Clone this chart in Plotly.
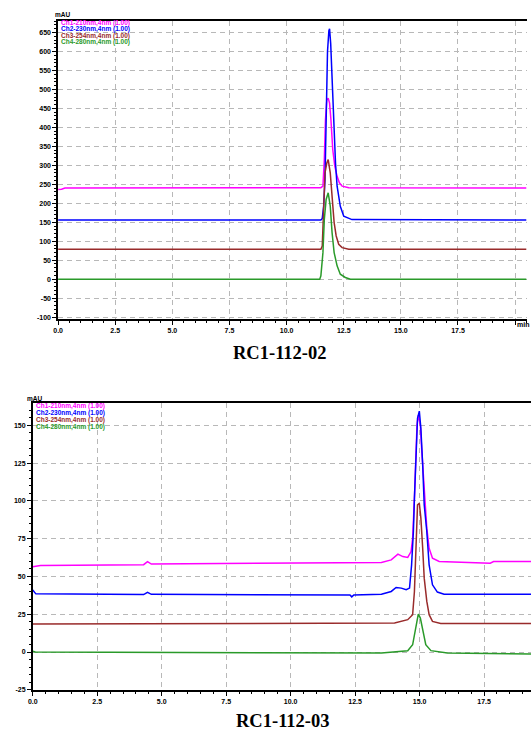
import plotly.graph_objects as go

W, H = 531, 740

# ---------------- data: RC1-112-02 (top) ----------------
TOP_MAG_T = [0.0, 0.15, 0.3, 11.50, 11.59, 11.65, 11.70, 11.76, 11.82, 11.88, 11.94, 12.02, 12.11, 12.21, 12.31, 12.43, 12.72, 20.5]
TOP_MAG_V = [236, 237, 240, 241, 245, 315, 420, 472, 477, 464, 420, 341, 297, 271, 254, 245, 241, 240]

TOP_BLU_T = [0.0, 11.50, 11.56, 11.62, 11.68, 11.73, 11.79, 11.85, 11.88, 11.93, 11.99, 12.05, 12.14, 12.21, 12.35, 12.50, 12.86, 20.5]
TOP_BLU_V = [156, 156, 160, 192, 262, 464, 600, 655, 660, 620, 520, 420, 306, 245, 192, 166, 157, 156]

TOP_BRN_T = [0.0, 11.50, 11.56, 11.62, 11.68, 11.76, 11.82, 11.91, 11.99, 12.08, 12.17, 12.28, 12.43, 12.72, 20.5]
TOP_BRN_V = [79, 79, 87.5, 176.6, 280, 306, 315, 280, 210, 149, 113.8, 91.9, 83.1, 78.7, 79]

TOP_GRN_T = [0.0, 11.45, 11.50, 11.59, 11.65, 11.73, 11.82, 11.91, 11.99, 12.08, 12.21, 12.35, 12.57, 12.79, 20.5]
TOP_GRN_V = [0, 0, 8.7, 69.9, 157.5, 210, 227.5, 192.5, 122.5, 70, 35, 13.1, 4.4, 0, 0]

# ---------------- data: RC1-112-03 (bottom) ----------------
BOT_MAG_T = [0.0, 0.3, 4.3, 4.45, 4.6, 9.0, 13.0, 13.52, 13.90, 14.16, 14.35, 14.54, 14.67, 14.73, 14.80, 14.86, 14.90, 14.95,
             15.03, 15.08, 15.14, 15.21, 15.28, 15.37, 15.50, 15.76, 16.72, 17.74, 17.87, 19.32]
BOT_MAG_V = [56.5, 57.2, 57.8, 59.8, 58.2, 58.5, 58.8, 59.3, 61.0, 64.8, 63.2, 62.6, 66.5, 75.3, 101.8, 128.2, 150.3, 156.8,
             150.3, 134.8, 117.2, 97.4, 82.0, 68.7, 62.1, 59.9, 59.5, 58.8, 59.9, 59.9]

BOT_BLU_T = [0.0, 0.12, 4.3, 4.45, 4.6, 12.3, 12.37, 12.45, 13.52, 13.90, 14.09, 14.29, 14.48, 14.61, 14.69, 14.76, 14.80,
             14.86, 14.92, 14.99, 15.05, 15.12, 15.18, 15.28, 15.37, 15.50, 15.69, 15.95, 19.32]
BOT_BLU_V = [41.0, 38.5, 38.0, 39.5, 38.2, 37.8, 36.5, 37.8, 38.3, 40.1, 42.7, 42.3, 41.2, 42.3, 57.7, 79.8, 101.8,
             128.2, 154.7, 159.5, 148, 123.8, 97.4, 79.8, 57.7, 44.5, 39.7, 38.3, 38.3]

BOT_BRN_T = [0.0, 13.52, 14.03, 14.54, 14.73, 14.80, 14.86, 14.92, 14.99, 15.05, 15.12, 15.18, 15.28, 15.37, 15.50, 15.82, 19.32]
BOT_BRN_V = [18.5, 18.9, 19.2, 21.4, 24.7, 40.1, 68.7, 97.4, 98.5, 88.6, 68.7, 48.9, 33.5, 24.7, 20.3, 18.9, 18.9]

BOT_GRN_T = [0.0, 0.1, 13.52, 14.16, 14.54, 14.73, 14.86, 14.95, 15.03, 15.12, 15.24, 15.44, 16.08, 19.32]
BOT_GRN_V = [0.5, 0.0, -0.7, 0.4, 0.9, 4.8, 18.1, 25.1, 22.5, 13.7, 4.8, 0.9, -0.7, -1.3]

LEGEND = ["Ch1-210nm,4nm (1.00)", "Ch2-230nm,4nm (1.00)", "Ch3-254nm,4nm (1.00)", "Ch4-280nm,4nm (1.00)"]
COLORS = ["#ff00ff", "#0000ff", "#992b2b", "#2a9a2a"]

X_TICKS = [0, 2.5, 5, 7.5, 10, 12.5, 15, 17.5, 20]
X_TEXT = ["0.0", "2.5", "5.0", "7.5", "10.0", "12.5", "15.0", "17.5", ""]
TOP_Y_TICKS = list(range(-100, 651, 50))
BOT_Y_TICKS = list(range(-25, 151, 25))

TITLES = ["RC1-112-02", "RC1-112-03"]


def px(x):
    return x / W


def py(y):
    return 1 - y / H


fig = go.Figure()
top = [(TOP_MAG_T, TOP_MAG_V), (TOP_BLU_T, TOP_BLU_V), (TOP_BRN_T, TOP_BRN_V), (TOP_GRN_T, TOP_GRN_V)]
bot = [(BOT_MAG_T, BOT_MAG_V), (BOT_BLU_T, BOT_BLU_V), (BOT_BRN_T, BOT_BRN_V), (BOT_GRN_T, BOT_GRN_V)]
for (t, v), c in zip(top, COLORS):
    fig.add_trace(go.Scatter(x=t, y=v, mode="lines", line=dict(color=c, width=1.5),
                             xaxis="x", yaxis="y", showlegend=False))
for (t, v), c in zip(bot, COLORS):
    fig.add_trace(go.Scatter(x=t, y=v, mode="lines", line=dict(color=c, width=1.5),
                             xaxis="x2", yaxis="y2", showlegend=False))

tickfont = dict(family="Liberation Sans", size=7, color="black", weight="bold")
grid = dict(showgrid=True, gridcolor="#b8b8b8", gridwidth=1, griddash="5px,4px", zeroline=False)


def xax(domain, rng, anchor):
    return dict(domain=domain, range=rng, anchor=anchor, tickmode="array", tickvals=X_TICKS, ticktext=X_TEXT,
                showline=True, linecolor="black", linewidth=1.5, mirror=True,
                ticks="outside", ticklen=4, tickcolor="black", tickfont=tickfont,
                minor=dict(tickmode="linear", tick0=0, dtick=0.5, ticks="outside", ticklen=2,
                           tickcolor="black", showgrid=False), **grid)


def yax(domain, rng, anchor, vals, mdt):
    return dict(domain=domain, range=rng, anchor=anchor, tickmode="array", tickvals=vals,
                ticktext=[str(v) for v in vals],
                showline=True, linecolor="black", linewidth=1.5,
                ticks="outside", ticklen=4, tickcolor="black", tickfont=tickfont,
                minor=dict(tickmode="linear", tick0=0, dtick=mdt, ticks="outside", ticklen=2,
                           tickcolor="black", showgrid=False), **grid)


fig.update_layout(
    width=W, height=H, margin=dict(l=0, r=0, t=0, b=0),
    paper_bgcolor="white", plot_bgcolor="white", showlegend=False,
    xaxis=xax([px(53.6), px(526.5)], [0, 20.5], "y"),
    yaxis=yax([py(320.2), py(21)], [-104.7, 680.5], "x", TOP_Y_TICKS, 10),
    xaxis2=xax([px(28), 1.0], [0, 19.32], "y2"),
    yaxis2=yax([py(692.6), py(405)], [-25, 164.6], "x2", BOT_Y_TICKS, 5),
)


def note(x, y, text, font, xanchor="center"):
    return dict(x=px(x), y=py(y), xref="paper", yref="paper", text=text, showarrow=False,
                xanchor=xanchor, yanchor="middle", font=font)


ann = []
for i, (txt, c) in enumerate(zip(LEGEND, COLORS)):
    lf = dict(family="Liberation Sans", size=6.5, color=c, weight="bold")
    ann.append(note(55, 23 + i * 6.5, txt, lf, "left"))
    ann.append(note(29, 407.5 + i * 7, txt, lf, "left"))
uf = dict(family="Liberation Sans", size=6.5, color="black", weight="bold")
ann.append(note(58, 15, "mAU", uf))
ann.append(note(30, 400.5, "mAU", uf))
ann.append(note(523, 325.5, "min", dict(family="Liberation Sans", size=7, color="black", weight="bold")))
tf = dict(family="Liberation Serif", size=18.5, color="black", weight="bold")
ann.append(note(278, 354.5, TITLES[0], tf))
ann.append(note(281, 724, TITLES[1], tf))
fig.update_layout(annotations=ann)

fig.write_html("out.html")
